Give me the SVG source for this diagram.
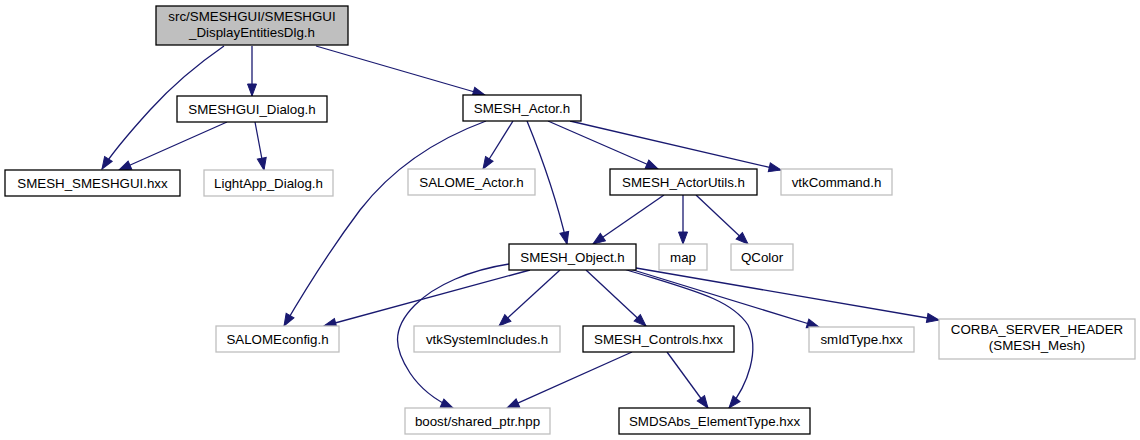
<svg xmlns="http://www.w3.org/2000/svg" width="1140" height="440" viewBox="0 0 1140 440">
<style>
text{font-family:"Liberation Sans",Arial,sans-serif;font-size:13.33px;fill:#000;text-anchor:middle}
.b{fill:#fff;stroke:#000;stroke-width:1.3}
.g{fill:#fff;stroke:#bfbfbf;stroke-width:1.3}
.r{fill:#bfbfbf;stroke:#000;stroke-width:1.3}
.e{fill:none;stroke:#191970;stroke-width:1.3;marker-end:url(#a)}
</style>
<defs>
<marker id="a" markerUnits="userSpaceOnUse" markerWidth="14" markerHeight="11" refX="12" refY="4.5" orient="auto" viewBox="-1 -1 14 11">
<path d="M0,0 L12,4.5 L0,9 z" fill="#191970" stroke="#191970" stroke-width="1"/>
</marker>
</defs>
<rect width="1140" height="440" fill="#fff"/>
<g id="edges">
<path class="e" d="M224,46 C195,66 170,88 150,110 C130,132 114,150 102,169"/>
<path class="e" d="M252,46 L252,96"/>
<path class="e" d="M316,46 L485,95"/>
<path class="e" d="M227,122 L119,170"/>
<path class="e" d="M255,122 L264,170"/>
<path class="e" d="M486,121 C440,138 395,165 360,210 C330,250 305,290 284,326"/>
<path class="e" d="M513,121 L483,169"/>
<path class="e" d="M527,121 C545,165 558,205 567,244"/>
<path class="e" d="M548,121 L658,169"/>
<path class="e" d="M570,121 L781,170"/>
<path class="e" d="M664,195 L593,244"/>
<path class="e" d="M683,195 L683,244"/>
<path class="e" d="M696,195 L748,244"/>
<path class="e" d="M509,264 C470,270 435,285 415,305 C390,330 395,350 410,373 C420,388 435,400 453,408"/>
<path class="e" d="M530,270 L324,326"/>
<path class="e" d="M560,270 L499,326"/>
<path class="e" d="M586,270 L646,326"/>
<path class="e" d="M624,269 C690,290 730,298 748,325 C760,350 748,385 729,408"/>
<path class="e" d="M630,269 L819,327"/>
<path class="e" d="M636,268 L939,320"/>
<path class="e" d="M632,352 L507,408"/>
<path class="e" d="M667,352 L708,408"/>
</g>
<g id="root"><rect class="r" x="156" y="6" width="192" height="39"/><text x="252" y="21">src/SMESHGUI/SMESHGUI</text><text x="252" y="37">_DisplayEntitiesDlg.h</text></g>
<g id="smeshgui_dialog"><rect class="b" x="177" y="96" width="150" height="26"/><text x="252" y="113.5">SMESHGUI_Dialog.h</text></g>
<g id="smesh_smeshgui"><rect class="b" x="5" y="170" width="175" height="26"/><text x="92.5" y="187.5">SMESH_SMESHGUI.hxx</text></g>
<g id="lightapp_dialog"><rect class="g" x="204" y="170" width="129" height="26"/><text x="268.5" y="187.5">LightApp_Dialog.h</text></g>
<g id="smesh_actor"><rect class="b" x="463" y="95" width="118" height="26"/><text x="522" y="112.5">SMESH_Actor.h</text></g>
<g id="salome_actor"><rect class="g" x="408" y="169" width="127" height="26"/><text x="471.5" y="186.5">SALOME_Actor.h</text></g>
<g id="smesh_actorutils"><rect class="b" x="610" y="169" width="147" height="26"/><text x="683.5" y="186.5">SMESH_ActorUtils.h</text></g>
<g id="vtkcommand"><rect class="g" x="781" y="169" width="111" height="26"/><text x="836.5" y="186.5">vtkCommand.h</text></g>
<g id="smesh_object"><rect class="b" x="509" y="244" width="127" height="26"/><text x="572.5" y="261.5">SMESH_Object.h</text></g>
<g id="map"><rect class="g" x="659" y="244" width="48" height="26"/><text x="683" y="261.5">map</text></g>
<g id="qcolor"><rect class="g" x="731" y="244" width="62" height="26"/><text x="762" y="261.5">QColor</text></g>
<g id="salomeconfig"><rect class="g" x="216" y="326" width="123" height="26"/><text x="277.5" y="343.5">SALOMEconfig.h</text></g>
<g id="vtksystemincludes"><rect class="g" x="414" y="326" width="146" height="26"/><text x="487" y="343.5">vtkSystemIncludes.h</text></g>
<g id="smesh_controls"><rect class="b" x="583" y="326" width="151" height="26"/><text x="658.5" y="343.5">SMESH_Controls.hxx</text></g>
<g id="smidtype"><rect class="g" x="809" y="327" width="105" height="25"/><text x="861.5" y="344">smIdType.hxx</text></g>
<g id="corba"><rect class="g" x="939" y="319" width="196" height="40"/><text x="1037" y="334">CORBA_SERVER_HEADER</text><text x="1037" y="350">(SMESH_Mesh)</text></g>
<g id="boost"><rect class="g" x="405" y="408" width="145" height="26"/><text x="477.5" y="425.5">boost/shared_ptr.hpp</text></g>
<g id="smdsabs"><rect class="b" x="619" y="408" width="191" height="26"/><text x="714.5" y="425.5">SMDSAbs_ElementType.hxx</text></g>
</svg>
